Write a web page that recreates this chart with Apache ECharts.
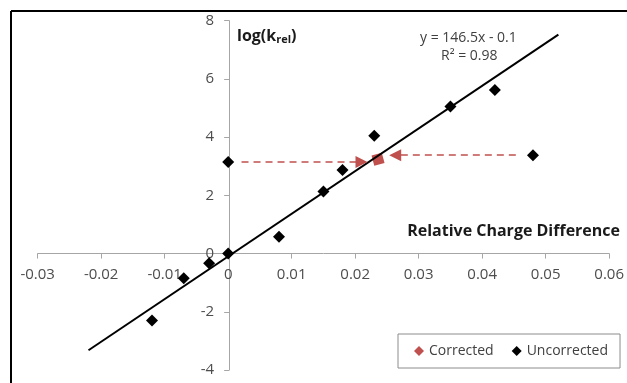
<!DOCTYPE html>
<html>
<head>
<meta charset="utf-8">
<script src="https://cdn.jsdelivr.net/npm/echarts@6/dist/echarts.min.js"></script>
<style>html,body{margin:0;padding:0;background:#fff}#c{width:627px;height:383px}</style>
</head>
<body>
<div id="c"></div>
<script>
// Data
var uncorrectedX = [-0.012, -0.007, -0.003, 0.000, 0.000, 0.008, 0.015, 0.018, 0.023, 0.035, 0.042, 0.048];
var uncorrectedY = [-2.30, -0.85, -0.33, 0.00, 3.15, 0.58, 2.13, 2.87, 4.05, 5.05, 5.62, 3.38];
var correctedX = [0.0236];
var correctedY = [3.24];
var trendX = [-0.022, 0.052];
var trendY = [-3.32, 7.52];
var arrowLeft = [[0.0021, 3.15], [0.021, 3.15]];
var arrowRight = [[0.0453, 3.38], [0.0263, 3.38]];
var xTicks = { min: -0.03, max: 0.06, interval: 0.01 };
var yTicks = { min: -4, max: 8, interval: 2 };

function pairs(xs, ys) { return xs.map(function (x, i) { return [x, ys[i]]; }); }

var FONT = 'Open Sans';
var red = '#C0504D';
var W = 627, H = 383;
var G = { left: 37.7, right: 15, top: 20.7, bottom: 13 };
// place axis lines through zero (the crossing point of the axes)
var xOffset = -(H - G.top - G.bottom) * (0 - yTicks.min) / (yTicks.max - yTicks.min);
var yOffset = -(W - G.left - G.right) * (0 - xTicks.min) / (xTicks.max - xTicks.min);

var chart = echarts.init(document.getElementById('c'), null, { renderer: 'canvas' });
chart.setOption({
  animation: false,
  backgroundColor: '#fff',
  grid: { left: G.left, right: G.right, top: G.top, bottom: G.bottom, containLabel: false },
  xAxis: {
    type: 'value', min: xTicks.min, max: xTicks.max, interval: xTicks.interval,
    position: 'bottom', offset: xOffset,
    axisLine: { onZero: false, lineStyle: { color: '#a6a6a6', width: 1 } },
    axisTick: { show: true, length: 5, lineStyle: { color: '#a6a6a6' } },
    axisLabel: { fontFamily: FONT, fontSize: 15, color: '#4d4d4d', margin: 14 },
    splitLine: { show: false }
  },
  yAxis: {
    type: 'value', min: yTicks.min, max: yTicks.max, interval: yTicks.interval,
    position: 'left', offset: yOffset,
    axisLine: { show: true, onZero: false, lineStyle: { color: '#a6a6a6', width: 1 } },
    axisTick: { show: true, length: 5, lineStyle: { color: '#a6a6a6' } },
    axisLabel: { fontFamily: FONT, fontSize: 15, color: '#4d4d4d', margin: 15 },
    splitLine: { show: false }
  },
  legend: {
    left: 398, top: 334,
    orient: 'horizontal',
    data: [{ name: 'Corrected', icon: 'diamond' }, { name: 'Uncorrected', icon: 'diamond' }],
    itemWidth: 10, itemHeight: 10, itemGap: 18,
    padding: [10, 12, 10, 16],
    borderColor: '#8c8c8c', borderWidth: 1,
    textStyle: { fontFamily: FONT, fontSize: 14, color: '#404040' }
  },
  series: [
    {
      name: 'Uncorrected', type: 'scatter', symbol: 'diamond', symbolSize: 12,
      itemStyle: { color: '#000', opacity: 1 }, data: pairs(uncorrectedX, uncorrectedY), z: 3
    },
    {
      name: 'Corrected', type: 'scatter', symbol: 'diamond', symbolSize: 15, symbolRotate: -30,
      itemStyle: { color: red, opacity: 1 }, data: pairs(correctedX, correctedY), z: 3,
      markLine: {
        silent: true, symbol: ['none', 'triangle'], symbolSize: 12,
        lineStyle: { color: red, type: [7, 5], width: 1.5, opacity: 1 },
        itemStyle: { color: red, opacity: 1 },
        label: { show: false },
        data: [
          [{ coord: arrowLeft[0] }, { coord: arrowLeft[1] }],
          [{ coord: arrowRight[0] }, { coord: arrowRight[1] }]
        ]
      }
    },
    {
      name: 'Trend', type: 'line', showSymbol: false, symbol: 'none',
      lineStyle: { color: '#000', width: 2 }, data: pairs(trendX, trendY), z: 4
    }
  ],
  graphic: [
    { type: 'line', shape: { x1: 11, y1: 11, x2: 627, y2: 11 }, style: { stroke: '#000', lineWidth: 2 } },
    { type: 'line', shape: { x1: 11, y1: 11, x2: 11, y2: 383 }, style: { stroke: '#000', lineWidth: 2 } },
    {
      type: 'text', left: 237, top: 28,
      style: {
        text: '{a|log(k}{s|rel}{a|)}',
        rich: {
          a: { fontFamily: FONT, fontSize: 16, fontWeight: 'bold', fill: '#1a1a1a' },
          s: { fontFamily: FONT, fontSize: 11, fontWeight: 'bold', fill: '#1a1a1a', padding: [8, 0, 0, 0] }
        }
      }
    },
    {
      type: 'text', right: 7, top: 223,
      style: { text: 'Relative Charge Difference', fontFamily: FONT, fontSize: 16, fontWeight: 'bold', fill: '#1a1a1a' }
    },
    {
      type: 'text', left: 420, top: 31,
      style: { text: 'y = 146.5x - 0.1', fontFamily: FONT, fontSize: 14, fill: '#404040' }
    },
    {
      type: 'text', left: 441, top: 49,
      style: { text: 'R² = 0.98', fontFamily: FONT, fontSize: 14, fill: '#404040' }
    }
  ]
});
</script>
</body>
</html>
